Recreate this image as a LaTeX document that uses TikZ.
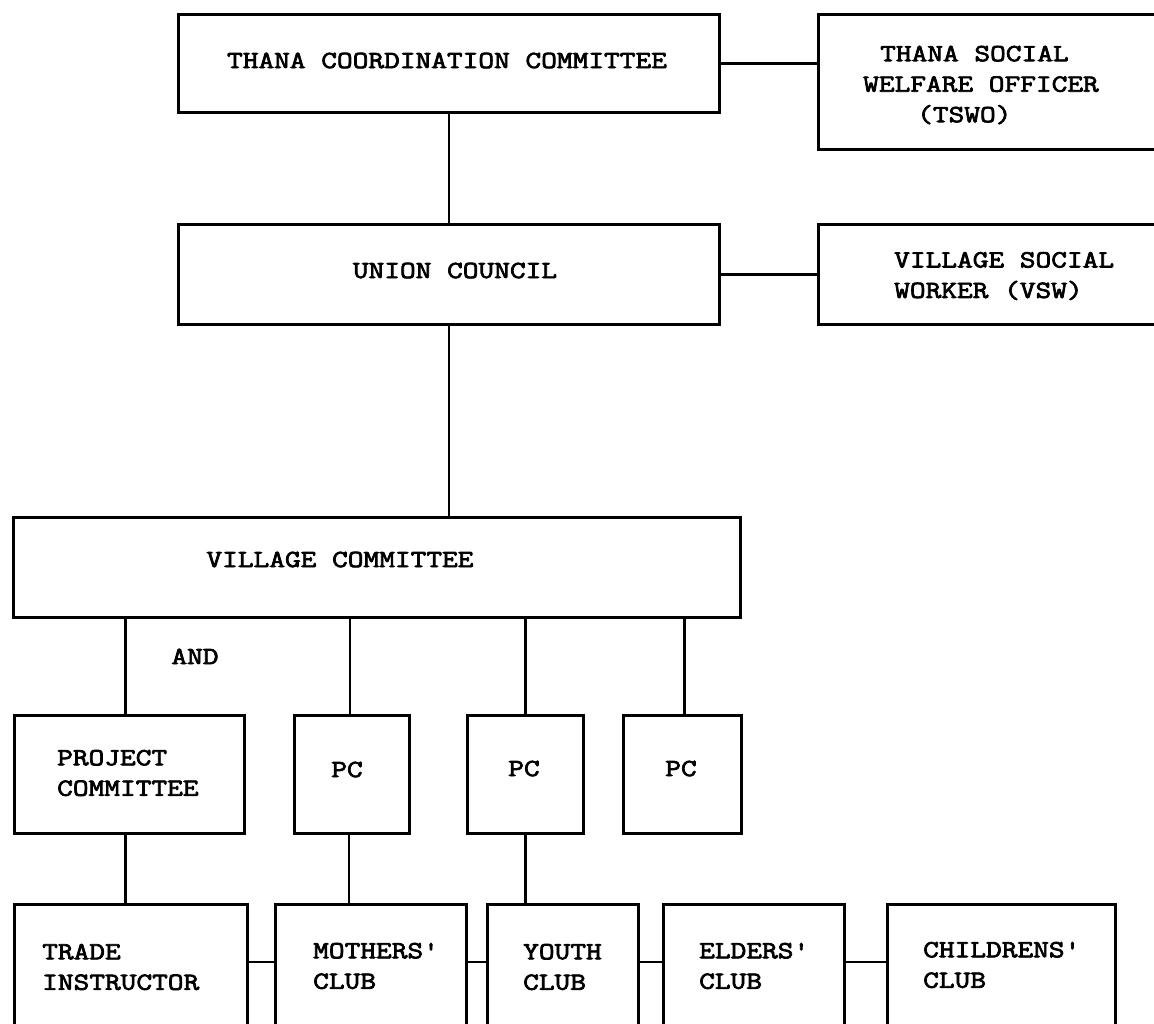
\documentclass[tikz,border=0pt]{standalone}
\usepackage{fontspec}
\newfontfamily\twfont{Latin Modern Mono}[FakeStretch=1.24,FakeBold=3]
\begin{document}
\begin{tikzpicture}[x=1pt,y=-1pt,
  box/.style={draw, line width=2.8pt, rectangle, inner sep=0pt, anchor=north west},
  conn/.style={line width=2.6pt},
  lbl/.style={inner sep=0pt, font=\twfont\fontsize{24.6pt}{30.5pt}\selectfont, text height=0.61em, text depth=0pt},
  mlbl/.style={inner sep=0pt, align=left, anchor=west, font=\twfont\fontsize{24.6pt}{30.5pt}\selectfont}]
\clip (0,0) rectangle (1154,1023);
% boxes
\node[box, minimum width=541pt, minimum height=98pt]  (tcc)  at (177,13) {};
\node[box, minimum width=370pt, minimum height=135pt] (tswo) at (817,13) {};
\node[box, minimum width=541pt, minimum height=100pt] (uc)   at (177,223) {};
\node[box, minimum width=370pt, minimum height=100pt] (vsw)  at (817,223) {};
\node[box, minimum width=727pt, minimum height=100pt] (vc)   at (12,516) {};
\node[box, minimum width=230pt, minimum height=118pt] (pcom) at (13,714) {};
\node[box, minimum width=115pt, minimum height=118pt] (pca)  at (293,714) {};
\node[box, minimum width=116pt, minimum height=118pt] (pcb)  at (466,714) {};
\node[box, minimum width=118pt, minimum height=118pt] (pcc)  at (622,714) {};
\node[box, minimum width=233pt, minimum height=150pt] (ti)   at (13,903) {};
\node[box, minimum width=191pt, minimum height=150pt] (moth) at (274,903) {};
\node[box, minimum width=151pt, minimum height=150pt] (yth)  at (486,903) {};
\node[box, minimum width=181pt, minimum height=150pt] (eld)  at (662,903) {};
\node[box, minimum width=228pt, minimum height=150pt] (chl)  at (886,903) {};
% labels
\node[lbl] (ttcc) at (447,65) {THANA COORDINATION COMMITTEE};
\node[mlbl] (ttswo) at (863,85) {\hspace*{17pt}THANA SOCIAL\\WELFARE OFFICER\\\hspace*{54pt}(TSWO)};
\node[lbl] (tuc) at (455,275) {UNION COUNCIL};
\node[mlbl] (tvsw) at (894,276) {VILLAGE SOCIAL\\WORKER (VSW)};
\node[lbl] (tvc) at (340,564) {VILLAGE COMMITTEE};
\node[lbl] (tand) at (195,661) {AND};
\node[mlbl] (tpcom) at (57,773) {PROJECT\\COMMITTEE};
\node[lbl] (tpca) at (347,774) {PC};
\node[lbl] (tpcb) at (524,773) {PC};
\node[lbl] (tpcc) at (681,773) {PC};
\node[mlbl] (tti) at (42,967) {TRADE\\INSTRUCTOR};
\node[mlbl] (tmoth) at (313,966) {MOTHERS'\\CLUB};
\node[mlbl] (tyth) at (523,967) {YOUTH\\CLUB};
\node[mlbl] (teld) at (699,966) {ELDERS'\\CLUB};
\node[mlbl] (tchl) at (923,965) {CHILDRENS'\\CLUB};
% connectors
\coordinate (crow) at (0,962);
\draw[conn] (tcc.east) -- (tswo.west |- tcc.east);
\draw[conn] (tcc.south) -- (uc.north);
\draw[conn] (uc.east) -- (vsw.west |- uc.east);
\draw[conn] (uc.south) -- (uc.south |- vc.north);
\draw[conn] ([xshift=-4pt]pcom.north) -- ([xshift=-4pt]pcom.north |- vc.south);
\draw[conn] ([xshift=-2pt]pca.north) -- ([xshift=-2pt]pca.north |- vc.south);
\draw[conn] (pcb.north) -- (pcb.north |- vc.south);
\draw[conn] ([xshift=2pt]pcc.north) -- ([xshift=2pt]pcc.north |- vc.south);
\draw[conn] ([xshift=-4pt]pcom.south) -- ([xshift=-4pt]pcom.south |- ti.north);
\draw[conn] ([xshift=-3pt]pca.south) -- ([xshift=-3pt]pca.south |- moth.north);
\draw[conn] (pcb.south) -- (pcb.south |- yth.north);
\draw[conn] (ti.east |- crow) -- (moth.west |- crow);
\draw[conn] (moth.east |- crow) -- (yth.west |- crow);
\draw[conn] (yth.east |- crow) -- (eld.west |- crow);
\draw[conn] (eld.east |- crow) -- (chl.west |- crow);
\end{tikzpicture}
\end{document}
